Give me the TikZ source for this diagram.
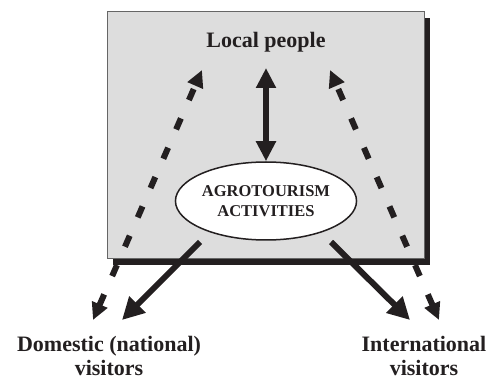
\documentclass[tikz,border=0pt]{standalone}
\usepackage{fontspec}
\setmainfont{Liberation Serif}
\usetikzlibrary{arrows.meta,shapes.geometric}
\definecolor{ink}{RGB}{35,31,32}
\definecolor{boxgray}{RGB}{221,221,221}
\tikzset{
  lbl/.style={font=\bfseries\fontsize{22}{24}\selectfont, text=ink, align=center, inner sep=0pt},
  solidarrow/.style={draw=ink, line width=6pt, -{Triangle[length=22pt,width=22pt]}},
  dasharrow/.style={draw=ink, line width=6pt, dash pattern=on 12pt off 20pt,
     {Triangle[length=17pt,width=16pt]}-{Triangle[length=17pt,width=16pt]}},
  vertarrow/.style={draw=ink, line width=6.5pt, {Triangle[length=20pt,width=19pt]}-{Triangle[length=20pt,width=19pt]}},
}
\begin{document}
\begin{tikzpicture}[x=1pt,y=1pt]
\useasboundingbox (0,0) rectangle (490,383);
% shadow and box
\fill[ink] (113,118) rectangle (430,365);
\path[fill=boxgray, draw=gray!80!black, line width=1pt] (107,124) rectangle (424,371);
% nodes
\node[lbl] (lp) at (266,341) {Local people};
\node[draw=ink, line width=1.5pt, fill=white, ellipse, minimum width=161pt, minimum height=78pt,
      inner sep=0pt, align=center, font=\bfseries\fontsize{16.5}{20}\selectfont, text=ink]
      (act) at (266,182) {AGROTOURISM\\ACTIVITIES};
\node[lbl] (dom) at (109,27) {Domestic (national)\\visitors};
\node[lbl] (intl) at (424,27) {International\\visitors};
% connector ends
\coordinate (lpL) at (202,313);
\coordinate (lpR) at (330,313);
\coordinate (lpC) at (266,315);
\coordinate (domD) at (93,63);
\coordinate (domS) at (122,63);
\coordinate (intS) at (410,63);
\coordinate (intD) at (439,63);
\coordinate (actL) at (200,141);
\coordinate (actR) at (331,141);
% arrows
\draw[vertarrow] (lpC) -- (act.north);
\draw[dasharrow] (domD) -- (lpL);
\draw[dasharrow] (intD) -- (lpR);
\draw[solidarrow] (actL) -- (domS);
\draw[solidarrow] (actR) -- (intS);
\end{tikzpicture}
\end{document}
